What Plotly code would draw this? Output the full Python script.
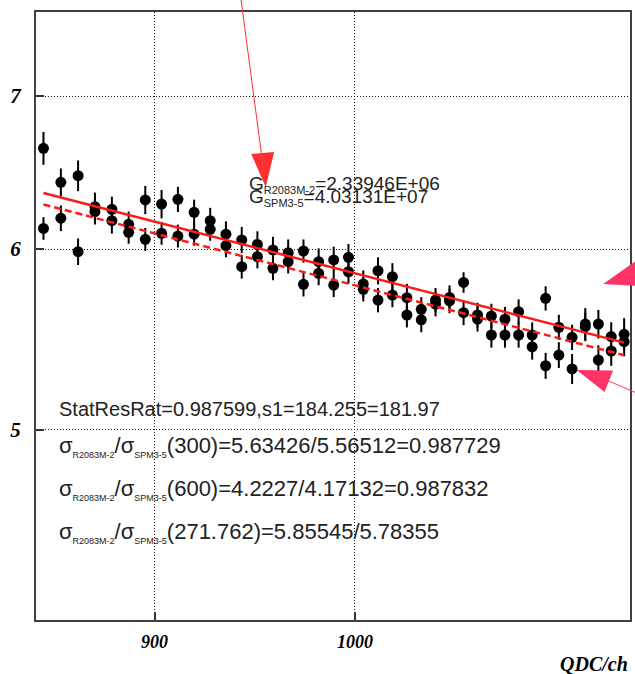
import plotly.graph_objects as go

# ---------------- data ----------------
qdc = [848.9, 856.7, 864.5, 872.2, 880.0, 887.8, 895.6, 903.3, 911.1, 918.9,
       926.7, 934.4, 942.2, 950.0, 957.8, 965.5, 973.3, 981.1, 988.9, 996.6,
       1004.4, 1012.2, 1019.9, 1027.7, 1035.5, 1043.3, 1051.0, 1058.8, 1066.6, 1074.4,
       1082.1, 1089.9, 1097.7, 1105.5, 1113.2, 1121.0, 1128.8, 1136.6, 1144.3, 1152.1]

res_r2083 = [6.641, 6.417, 6.460, 6.261, 6.245, 6.151, 6.304, 6.278, 6.308, 6.226,
             6.174, 6.090, 6.055, 6.028, 5.994, 5.978, 5.988, 5.924, 5.934, 5.950,
             5.792, 5.870, 5.835, 5.713, 5.646, 5.699, 5.714, 5.801, 5.614, 5.608,
             5.590, 5.633, 5.502, 5.709, 5.545, 5.489, 5.563, 5.563, 5.493, 5.506]
err_r2083 = [0.11, 0.09, 0.10, 0.09, 0.08, 0.08, 0.09, 0.09, 0.08, 0.08,
             0.08, 0.08, 0.08, 0.08, 0.08, 0.08, 0.07, 0.08, 0.08, 0.08,
             0.08, 0.08, 0.08, 0.08, 0.07, 0.07, 0.07, 0.06, 0.07, 0.07,
             0.07, 0.07, 0.07, 0.07, 0.07, 0.07, 0.09, 0.08, 0.08, 0.09]

res_spm = [6.126, 6.189, 5.984, 6.230, 6.174, 6.102, 6.059, 6.096, 6.079, 6.090,
           6.120, 6.020, 5.894, 5.954, 5.884, 5.924, 5.790, 5.855, 5.786, 5.864,
           5.761, 5.699, 5.728, 5.614, 5.587, 5.676, 5.694, 5.627, 5.591, 5.502,
           5.502, 5.502, 5.437, 5.334, 5.392, 5.317, 5.548, 5.365, 5.414, 5.465]
err_spm = [0.07, 0.08, 0.08, 0.08, 0.08, 0.07, 0.07, 0.07, 0.07, 0.07,
           0.07, 0.07, 0.07, 0.07, 0.07, 0.07, 0.07, 0.07, 0.07, 0.07,
           0.07, 0.07, 0.07, 0.07, 0.07, 0.07, 0.07, 0.07, 0.07, 0.07,
           0.07, 0.07, 0.07, 0.07, 0.07, 0.08, 0.08, 0.08, 0.08, 0.08]

fit_x = [848.9, 1152.1]
fit_r2083 = [6.348, 5.460]
fit_spm = [6.275, 5.391]

x_ticks = [900, 1000]
x_ticklabels = ["900", "1000"]
y_ticks = [5, 6, 7]
y_ticklabels = ["5", "6", "7"]

# ---------------- figure ----------------
W, H = 635, 674
ML, MR, MT, MB = 36, 3, 12, 54
PW, PH = W - ML - MR, H - MT - MB


def px(xp):
    return (xp - ML) / PW


def py(yp):
    return (H - MB - yp) / PH


fig = go.Figure()

for yv, ev in ((res_r2083, err_r2083), (res_spm, err_spm)):
    fig.add_trace(go.Scatter(
        x=qdc, y=yv, mode="markers",
        marker=dict(color="black", size=11, line=dict(width=0)),
        error_y=dict(type="data", array=ev, color="black", thickness=2, width=0),
        showlegend=False))

fig.add_trace(go.Scatter(x=fit_x, y=fit_r2083, mode="lines",
                         line=dict(color="#ff1a1a", width=2.5), showlegend=False))
fig.add_trace(go.Scatter(x=fit_x, y=fit_spm, mode="lines",
                         line=dict(color="#ff1a1a", width=2.5, dash="7px,4px"),
                         showlegend=False))

axis_common = dict(
    showline=True, mirror=True, linecolor="#404040", linewidth=2,
    ticks="inside", ticklen=8, tickwidth=2, tickcolor="#333",
    showgrid=True, gridcolor="#111", gridwidth=1, griddash="1px,2px",
    zeroline=False,
)

fig.update_xaxes(type="log", range=[2.92715, 3.06283],
                 tickvals=x_ticks, ticktext=x_ticklabels,
                 ticklabelstandoff=4,
                 tickfont=dict(family="Liberation Serif", size=18, color="black",
                               weight="bold", style="italic"),
                 **axis_common)
fig.update_yaxes(type="log", range=[0.61579, 0.88187],
                 tickvals=y_ticks, ticktext=y_ticklabels,
                 ticklabelstandoff=9,
                 tickfont=dict(family="Liberation Serif", size=21, color="black",
                               weight="bold", style="italic"),
                 **axis_common)

TXT = dict(family="Liberation Sans", color="#222")
sub = lambda s, fs: "<sub><span style='font-size:%dpx'>%s</span></sub>" % (fs, s)

annots = [
    dict(x=px(248), y=py(184), text="G" + sub("R2083M-2", 11) + "=2.33946E+06",
         size=19),
    dict(x=px(248), y=py(197), text="G" + sub("SPM3-5", 11) + "=4.03131E+07",
         size=19),
    dict(x=px(57), y=py(409), text="StatResRat=0.987599,s1=184.255=181.97", size=20),
    dict(x=px(57), y=py(446),
         text="σ" + sub("R2083M-2", 9) + "/σ" + sub("SPM3-5", 9)
         + "(300)=5.63426/5.56512=0.987729", size=22),
    dict(x=px(57), y=py(489),
         text="σ" + sub("R2083M-2", 9) + "/σ" + sub("SPM3-5", 9)
         + "(600)=4.2227/4.17132=0.987832", size=22),
    dict(x=px(57), y=py(532),
         text="σ" + sub("R2083M-2", 9) + "/σ" + sub("SPM3-5", 9)
         + "(271.762)=5.85545/5.78355", size=22),
]
for a in annots:
    fig.add_annotation(x=a["x"], y=a["y"], xref="paper", yref="paper",
                       text=a["text"], showarrow=False, xanchor="left",
                       yanchor="middle", font=dict(size=a["size"], **TXT))

fig.add_annotation(x=px(632), y=py(664), xref="paper", yref="paper",
                   text="QDC/ch", showarrow=False, xanchor="right", yanchor="middle",
                   font=dict(family="Liberation Serif", size=20, color="black",
                             weight="bold", style="italic"))


def tri(p, color):
    d = "M %f,%f L %f,%f L %f,%f Z" % (px(p[0][0]), py(p[0][1]), px(p[1][0]),
                                        py(p[1][1]), px(p[2][0]), py(p[2][1]))
    return dict(type="path", path=d, xref="paper", yref="paper",
                fillcolor=color, line=dict(width=0), layer="above")


def seg(a, b, color):
    return dict(type="line", x0=px(a[0]), y0=py(a[1]), x1=px(b[0]), y1=py(b[1]),
                xref="paper", yref="paper", line=dict(color=color, width=1),
                layer="above")


RED = "#ff3030"
PINK = "#ff3366"
shapes = [
    seg((241.5, -2), (263, 160), RED),
    tri(((252, 154), (275, 152), (266.5, 187)), RED),
    tri(((605, 284), (642, 258), (642, 286)), PINK),
    seg((606, 379), (650, 398), PINK),
    tri(((578.5, 370), (615, 370.5), (606.5, 392)), PINK),
]
fig.update_layout(shapes=shapes)

fig.update_layout(width=W, height=H, margin=dict(l=ML, r=MR, t=MT, b=MB),
                  plot_bgcolor="white", paper_bgcolor="white")

fig.write_html("out.html")
